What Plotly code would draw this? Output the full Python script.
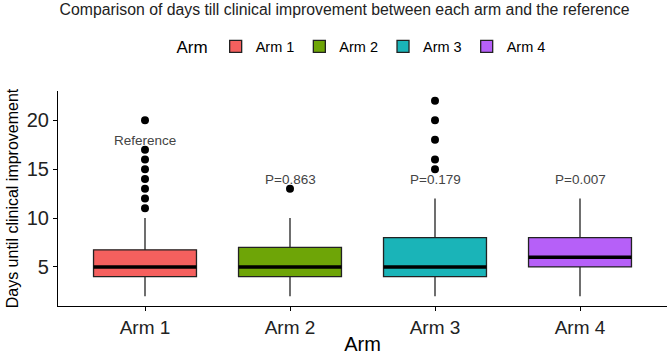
import plotly.graph_objects as go

arms = ["Arm 1", "Arm 2", "Arm 3", "Arm 4"]
colors = ["#F5605E", "#6EA507", "#1AB4B8", "#B660F8"]
q1 = [4, 4, 4, 5]
median = [5, 5, 5, 6]
q3 = [6.75, 7, 8, 8]
lowerfence = [2, 2, 2, 2]
upperfence = [10, 10, 12, 12]
outliers = [
    [11, 12, 13, 14, 15, 16, 17, 20],
    [13],
    [15, 16, 18, 20, 22],
    [],
]
labels = ["Reference", "P=0.863", "P=0.179", "P=0.007"]
label_y = [17.9, 13.9, 13.9, 13.9]

fig = go.Figure()
for i, arm in enumerate(arms):
    fig.add_trace(go.Box(
        x=[arm], q1=[q1[i]], median=[median[i]], q3=[q3[i]],
        lowerfence=[lowerfence[i]], upperfence=[upperfence[i]],
        name=arm, fillcolor=colors[i], line=dict(color="#222222", width=1.3),
        whiskerwidth=0, width=0.71, boxpoints=False, showlegend=True,
        hoverinfo="skip",
    ))
    if outliers[i]:
        fig.add_trace(go.Scatter(
            x=[arm] * len(outliers[i]), y=outliers[i], mode="markers",
            marker=dict(color="black", size=8), showlegend=False,
            hoverinfo="skip",
        ))
    fig.add_shape(type="line", xref="x", yref="y",
                  x0=i - 0.355, x1=i + 0.355, y0=median[i], y1=median[i],
                  line=dict(color="black", width=3.5))
    fig.add_annotation(x=arm, y=label_y[i], text=labels[i], showarrow=False,
                       font=dict(size=13.5, color="#444444"))

fig.update_layout(
    width=669, height=357,
    margin=dict(l=58, r=2, t=91, b=51),
    paper_bgcolor="white", plot_bgcolor="white",
    font=dict(family="Liberation Sans, Arial, sans-serif", color="black"),
    title=dict(text="Comparison of days till clinical improvement between each arm and the reference",
               x=0.515, xanchor="center", y=0.99, yanchor="top",
               font=dict(size=15.8, color="#222222")),
    legend=dict(orientation="h", x=0.5, xanchor="center", y=1.205, yanchor="middle",
                title=dict(text="Arm", font=dict(size=17)), font=dict(size=14.5)),
    showlegend=True,
)
fig.update_xaxes(
    categoryorder="array", categoryarray=arms, range=[-0.6, 3.6],
    showline=True, linecolor="black", linewidth=1.2, ticks="outside", ticklen=4,
    tickcolor="black", tickfont=dict(size=19, color="#222222"),
    title=dict(text="Arm", font=dict(size=20), standoff=0), showgrid=False, zeroline=False,
)
fig.update_yaxes(
    range=[1, 23], tickvals=[5, 10, 15, 20],
    showline=True, linecolor="black", linewidth=1.2, ticks="outside", ticklen=4,
    tickcolor="black", tickfont=dict(size=20, color="#222222"),
    title=dict(text="Days until clinical improvement", font=dict(size=16), standoff=4),
    showgrid=False, zeroline=False,
)
fig.write_html("out.html")
